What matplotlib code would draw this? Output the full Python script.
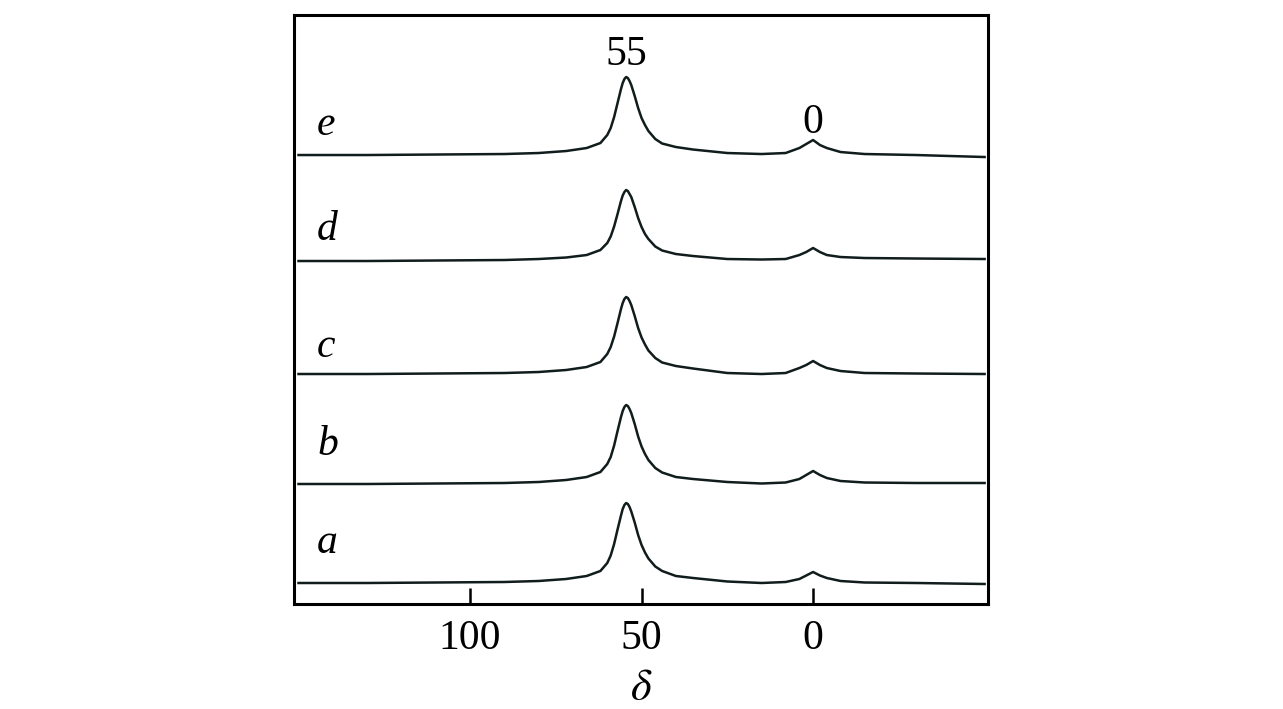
import numpy as np
import matplotlib
matplotlib.use('Agg')
import matplotlib.pyplot as plt

plt.rcParams['font.family'] = ['Liberation Serif', 'DejaVu Serif']
plt.rcParams['mathtext.fontset'] = 'stix'

# chemical shift grid shared by all traces
delta = [150, 130, 110, 90, 80, 72, 66, 62, 60, 59, 58, 57, 56, 55.5, 55,
         54.5, 54, 53.5, 53, 52, 51, 50, 49, 48, 46, 44, 40, 35, 25, 15, 8,
         4, 2, 0, -2, -4, -8, -15, -30, -50]

# stacked spectra (already offset)
trace_a = [21, 21, 21.5, 22, 23, 25, 28, 33, 41, 48.5, 60, 74.5, 88.5, 95, 99,
           101, 100, 97, 92.5, 81.5, 69, 59, 51.5, 45.5, 37.5, 33, 28, 26,
           22.5, 21, 22, 25, 28.5, 32, 28.5, 26, 23, 21.5, 21, 20]
trace_b = [120, 120, 120.5, 121, 122, 124, 127, 132, 140, 147, 158.5, 173,
           187, 193, 197, 199, 198, 195, 191, 180, 167.5, 157.5, 150, 144, 136,
           131.5, 127, 125, 122, 120.5, 121.5, 125, 129, 133, 129, 126, 123,
           121.5, 121, 121]
trace_c = [230, 230, 230.5, 231, 232, 234, 237, 242, 250, 257, 267.5, 281,
           295, 301, 305, 307, 306, 303, 299, 288, 276, 266.5, 259.5, 253.5,
           246, 241.5, 238, 235.5, 231, 230, 231, 236, 239, 243, 239, 236, 233,
           231, 230.5, 230]
trace_d = [343, 343, 343.5, 344, 345, 346.5, 349, 354, 361, 367.5, 377.5, 390,
           403, 408.5, 412, 414, 413, 410, 407, 397, 386, 377, 370, 365, 357.5,
           353.5, 350, 348, 345, 344.5, 345, 349, 352, 356, 352, 349, 347, 346,
           345.5, 345]
trace_e = [449, 449, 449.5, 450, 451, 453, 456, 461, 469, 476, 487, 501, 515,
           521, 525, 527, 526, 523, 519, 508, 496, 486, 479, 473, 465, 460.5,
           457, 454.5, 451, 450, 451, 456, 460, 464, 459, 456, 452, 450, 449,
           447]

traces = [trace_a, trace_b, trace_c, trace_d, trace_e]
names = ['a', 'b', 'c', 'd', 'e']
name_y = [51, 149, 247, 364, 469]

fig = plt.figure(figsize=(12.83, 7.09), dpi=100)
ax = fig.add_axes([0.2292, 0.1481, 0.5409, 0.8307])

for tr in traces:
    ax.plot(delta, tr, color='#111c1c', lw=1.8)

for nm, yy in zip(names, name_y):
    ax.text(144.6, yy, nm, fontsize=30, style='italic', ha='left', va='baseline')

# peak labels
ax.text(54.5, 539, '55', fontsize=30, ha='center', va='baseline')
ax.text(0, 471, '0', fontsize=30, ha='center', va='baseline')

ax.set_xlim(151.3, -51)
ax.set_ylim(0, 589)
ax.set_xticks([100, 50, 0])
ax.set_yticks([])
ax.tick_params(axis='x', direction='in', length=11.5, width=1.8,
               labelsize=30, pad=11)
for sp in ax.spines.values():
    sp.set_linewidth(2.2)
ax.set_xlabel(r'$\delta$', fontsize=32, labelpad=8)

fig.savefig('out.png', dpi=100)
